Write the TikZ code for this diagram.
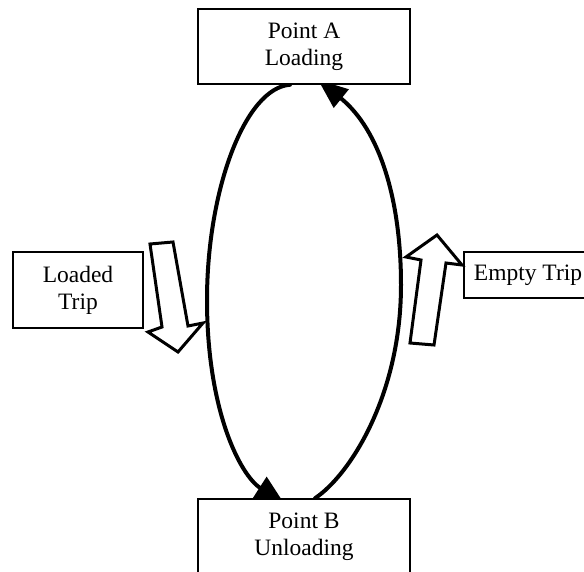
\documentclass[tikz,border=0pt]{standalone}
\usepackage{fontspec}
\setmainfont{Liberation Serif}
\usetikzlibrary{arrows.meta,calc,backgrounds}
\begin{document}
\begin{tikzpicture}[x=1pt,y=-1pt,
  box/.style={draw=black, line width=1.5pt, fill=white, align=center,
    font=\fontsize{23.5}{27}\selectfont, inner sep=0pt},
  loopline/.style={line width=4pt, line cap=round},
  hollow/.style={draw=black, line width=3pt, fill=white, line join=miter}]
\useasboundingbox (0,0) rectangle (584,572);
\node[box, minimum width=212pt, minimum height=75pt] (A) at (304,46.5) {Point A\\Loading};
\node[box, minimum width=212pt, minimum height=75pt] (B) at (304,536.5) {Point B\\Unloading};
\node[box, minimum width=130pt, minimum height=76pt] (L) at (78,290) {Loaded\\Trip};
\node[box, minimum width=128pt, minimum height=46pt] (E) at (528,275) {Empty Trip};
\begin{scope}[on background layer]
\draw[loopline, -{Triangle[length=29pt,width=25pt]}]
  ($(A.south)+(-14,0)$) .. controls (245,88) and (207,190) .. (207,300)
  .. controls (207,410) and (240,475) .. ($(B.north)+(-20,5)$);
\draw[loopline, -{Triangle[length=30pt,width=23pt]}]
  ($(B.north)+(11,0)$) .. controls (350,475) and (401,395) .. (401,285)
  .. controls (401,200) and (380,130) .. ($(A.south)+(14,-5)$);
\end{scope}
\draw[hollow] (150,244) -- (173,242) -- (188,326) -- (203,323) -- (178,352) -- (148,332) -- (162,327) -- cycle;
\draw[hollow] (437,235) -- (462,265) -- (446,263) -- (434,345) -- (410,343) -- (421,260) -- (406,257) -- cycle;
\end{tikzpicture}
\end{document}
